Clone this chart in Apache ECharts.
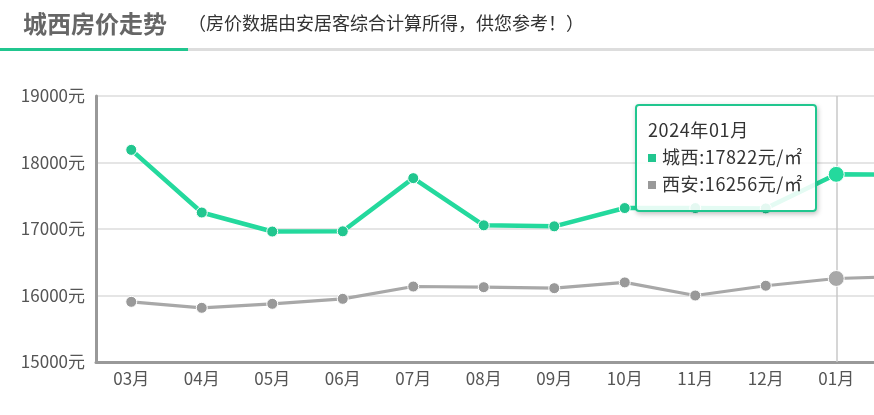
<!DOCTYPE html>
<html>
<head>
<meta charset="utf-8">
<script src="https://cdn.jsdelivr.net/npm/echarts@6/dist/echarts.min.js"></script>
<style>
    html, body { margin: 0; padding: 0; width: 874px; height: 415px; overflow: hidden; background: #fff; }
    body { position: relative; font-family: "Noto Sans CJK SC", sans-serif; }
    #chart { position: absolute; left: 0; top: 0; width: 960px; height: 415px; }
    .head { position: absolute; left: 0; top: 0; width: 874px; height: 51px; z-index: 2; }
    .head .title { position: absolute; left: 23px; top: 5px; font-size: 24px; font-weight: bold; color: #666; line-height: 36px; }
    .head .sub { position: absolute; left: 188px; top: 7px; font-size: 18px; color: #333; line-height: 30px; }
    .head .bar { position: absolute; left: 0; top: 48px; width: 874px; height: 3px; background: #ddd; }
    .head .bar i { position: absolute; left: 0; top: 0; width: 188px; height: 3px; background: #21c68f; }
</style>
</head>
<body>
<div class="head">
    <div class="title">城西房价走势</div>
    <div class="sub">（房价数据由安居客综合计算所得，供您参考！）</div>
    <div class="bar"><i></i></div>
</div>
<div id="chart"></div>
<script>
// 月份（最后一个02月在画面外）
let months = ['03月','04月','05月','06月','07月','08月','09月','10月','11月','12月','01月','02月'];
let fullMonths = ['2023年03月','2023年04月','2023年05月','2023年06月','2023年07月','2023年08月','2023年09月','2023年10月','2023年11月','2023年12月','2024年01月','2024年02月'];
let chengxi = [18190, 17248, 16962, 16965, 17765, 17055, 17040, 17315, 17315, 17310, 17822, 17815];
let xian = [15905, 15815, 15875, 15950, 16135, 16125, 16110, 16197, 16000, 16147, 16256, 16288];
let yTicks = [15000, 16000, 17000, 18000, 19000];

let green = '#21c68f';
let gray = '#999999';

let option = {
    animation: false,
    textStyle: { fontFamily: 'Noto Sans CJK SC' },
    grid: { left: 96, right: 18, top: 96, bottom: 53 },
    tooltip: {
        trigger: 'axis',
        triggerOn: 'none',
        alwaysShowContent: true,
        position: [635, 104],
        backgroundColor: 'rgba(255,255,255,0.88)',
        borderColor: green,
        borderWidth: 2,
        padding: [10, 12, 13, 11],
        extraCssText: 'border-radius:4px;box-shadow:1px 2px 5px rgba(0,0,0,0.25);',
        axisPointer: {
            type: 'line',
            z: 1,
            lineStyle: { color: '#c8c8c8', width: 1.5, type: 'solid' }
        },
        formatter: function (params) {
            let i = params[0].dataIndex;
            let html = '<div style="font-size:18px;color:#333;line-height:27px;letter-spacing:0.6px;font-family:Noto Sans CJK SC">' + fullMonths[i];
            params.forEach(function (p) {
                html += '<br/><span style="display:inline-block;width:8px;height:8px;background:' + p.color + ';margin-right:6px;vertical-align:2px"></span>'
                    + p.seriesName + ':' + p.value + '元/㎡';
            });
            return html + '</div>';
        }
    },
    xAxis: {
        type: 'category',
        data: months,
        boundaryGap: true,
        axisLine: { lineStyle: { color: '#999', width: 3 } },
        axisTick: { alignWithLabel: true, length: 6, lineStyle: { color: '#ccd6eb' } },
        axisLabel: { color: '#555', fontSize: 17, margin: 8 }
    },
    yAxis: {
        type: 'value',
        min: yTicks[0],
        max: yTicks[yTicks.length - 1],
        interval: 1000,
        axisLine: { show: true, lineStyle: { color: '#999', width: 3 } },
        axisTick: { show: false },
        axisLabel: {
            color: '#555', fontSize: 17, margin: 11,
            formatter: function (v) { return v + '元'; }
        },
        splitLine: { lineStyle: { color: '#ddd', width: 1.5 } }
    },
    series: [
        {
            name: '城西',
            type: 'line',
            data: chengxi,
            color: green,
            symbol: 'circle',
            symbolSize: 11,
            lineStyle: { width: 4.5, color: green },
            itemStyle: { color: green, borderColor: '#fff', borderWidth: 1 },
            emphasis: { scale: 1.45, lineStyle: { width: 4.5 } },
            z: 3
        },
        {
            name: '西安',
            type: 'line',
            data: xian,
            color: gray,
            symbol: 'circle',
            symbolSize: 11,
            lineStyle: { width: 3.2, color: gray },
            itemStyle: { color: gray, borderColor: '#fff', borderWidth: 1 },
            emphasis: { scale: 1.45, lineStyle: { width: 3.2 } },
            z: 2
        }
    ]
};

let chart = echarts.init(document.getElementById('chart'));
chart.setOption(option);
chart.dispatchAction({ type: 'showTip', seriesIndex: 0, dataIndex: 10 });
</script>
</body>
</html>
